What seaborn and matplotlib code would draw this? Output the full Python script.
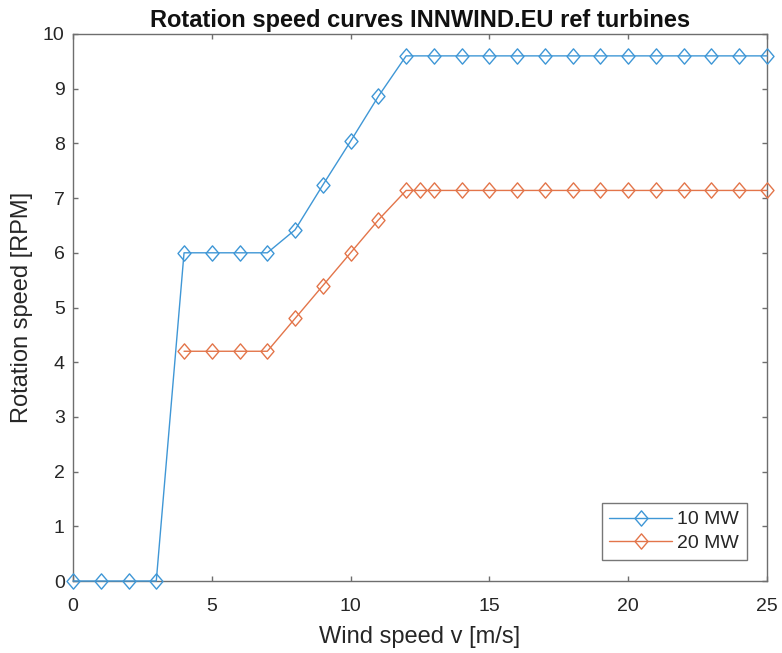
import matplotlib
matplotlib.use("Agg")
import matplotlib.pyplot as plt
from matplotlib.path import Path
import seaborn as sns
import pandas as pd

wind_10 = [0, 1, 2, 3, 4, 5, 6, 7, 8, 9, 10, 11, 12, 13, 14, 15, 16, 17, 18, 19, 20, 21, 22, 23, 24, 25]
rpm_10 = [0, 0, 0, 0, 6.0, 6.0, 6.0, 6.0, 6.42, 7.24, 8.04, 8.86, 9.6, 9.6, 9.6, 9.6, 9.6, 9.6, 9.6, 9.6,
          9.6, 9.6, 9.6, 9.6, 9.6, 9.6]
wind_20 = [4, 5, 6, 7, 8, 9, 10, 11, 12, 12.5, 13, 14, 15, 16, 17, 18, 19, 20, 21, 22, 23, 24, 25]
rpm_20 = [4.2, 4.2, 4.2, 4.2, 4.8, 5.4, 6.0, 6.6, 7.14, 7.14, 7.14, 7.14, 7.14, 7.14, 7.14, 7.14, 7.14,
          7.14, 7.14, 7.14, 7.14, 7.14, 7.14]
labels = ["10 MW", "20 MW"]
xticks = [0, 5, 10, 15, 20, 25]
yticks = list(range(0, 11))

sns.set_theme(style="white")
plt.rcParams['font.family'] = ['Liberation Sans', 'DejaVu Sans']

df = pd.concat([
    pd.DataFrame({"v": wind_10, "rpm": rpm_10, "turbine": labels[0]}),
    pd.DataFrame({"v": wind_20, "rpm": rpm_20, "turbine": labels[1]}),
])

diamond = Path([(0, 1), (0.85, 0), (0, -1), (-0.85, 0), (0, 1)],
               [Path.MOVETO, Path.LINETO, Path.LINETO, Path.LINETO, Path.CLOSEPOLY])

colors = {"10 MW": "#3f97d6", "20 MW": "#e3754a"}
fig = plt.figure(figsize=(7.82, 6.53), dpi=100)
ax = fig.add_axes([73 / 782, 1 - 581 / 653, (767 - 73) / 782, (581 - 34) / 653])

for lab in labels:
    sub = df[df.turbine == lab]
    sns.lineplot(data=sub, x="v", y="rpm", ax=ax, color=colors[lab], linewidth=1.0,
                 marker=diamond, markersize=11, markerfacecolor="none",
                 markeredgecolor=colors[lab], markeredgewidth=1.0, label=lab,
                 estimator=None, sort=False, clip_on=False, zorder=3)

ax.set_xlim(0, 25)
ax.set_ylim(0, 10)
ax.set_xticks(xticks)
ax.set_yticks(yticks)
axcol = "#6e6e6e"
for s in ax.spines.values():
    s.set_visible(True)
    s.set_color(axcol)
    s.set_linewidth(1.0)
ax.tick_params(direction="in", length=3.6, width=1.0, colors=axcol, labelcolor="#262626",
               labelsize=14, top=True, right=True, bottom=True, left=True)
ax.tick_params(axis="x", pad=12)
ax.tick_params(axis="y", pad=6)
ax.set_xlabel("Wind speed v [m/s]", fontsize=17, color="#262626", labelpad=8)
ax.set_ylabel("Rotation speed [RPM]", fontsize=17, color="#262626", labelpad=7)
ax.set_title("Rotation speed curves INNWIND.EU ref turbines", fontsize=17,
             fontweight="bold", color="#111111", pad=5)

leg = ax.legend(loc="lower right", bbox_to_anchor=(1 - 20 / 694, 21 / 547), borderaxespad=0,
                fontsize=14, frameon=True, fancybox=False, handlelength=3.2, borderpad=0.4,
                labelspacing=0.32, handletextpad=0.3)
leg.get_frame().set_edgecolor("#555555")
leg.get_frame().set_linewidth(1.0)
for t in leg.get_texts():
    t.set_color("#262626")

fig.savefig("out.png", dpi=100, facecolor="white")
